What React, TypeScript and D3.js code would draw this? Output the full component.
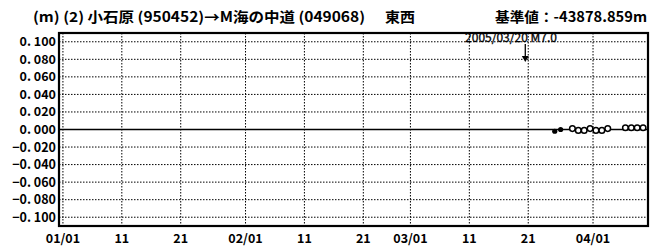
import React from "react";
import * as d3 from "d3";

const yTicks = [0.1, 0.08, 0.06, 0.04, 0.02, 0, -0.02, -0.04, -0.06, -0.08, -0.1];
const xTickDates = ["2005-01-01", "2005-01-11", "2005-01-21", "2005-02-01", "2005-02-11", "2005-02-21", "2005-03-01", "2005-03-11", "2005-03-21", "2005-04-01"];
const xTickLabels = ["01/01", "11", "21", "02/01", "11", "21", "03/01", "11", "21", "04/01"];

const filledDates = ["2005-03-25", "2005-03-26"];
const filledValues = [-0.002, 0.0];
const openDates = ["2005-03-28", "2005-03-29", "2005-03-30", "2005-03-31", "2005-04-01", "2005-04-02", "2005-04-03", "2005-04-06", "2005-04-07", "2005-04-08", "2005-04-09"];
const openValues = [0.001, -0.001, -0.001, 0.001, -0.001, -0.001, 0.001, 0.002, 0.002, 0.002, 0.002];

const quakeDate = "2005-03-20";
const quakeLabel = "2005/03/20 M7.0";
const titleLeft = "(m) (2) 小石原 (950452)→M海の中道 (049068)";
const titleDir = "東西";
const titleRight = "基準値：-43878.859m";

const toDate = (s: string, h = 0) => new Date(s + "T" + String(h).padStart(2, "0") + ":00:00Z");

export default function App() {
  const W = 661, H = 247;
  const L = 59, R = 648, T = 33, B = 226;
  const x = d3.scaleUtc().domain([new Date(Date.UTC(2004, 11, 31, 8)), new Date(Date.UTC(2005, 3, 10, 8))]).range([L, R]);
  const y = d3.scaleLinear().domain([-0.11, 0.11]).range([B, T]);
  const fmt = (v: number) => {
    const s = Math.abs(v).toFixed(3).replace(".", ". ");
    return (v < 0 ? "−" : "") + s;
  };
  const font = "'Noto Sans CJK JP', 'Liberation Sans', sans-serif";
  const qx = x(toDate(quakeDate, 12));
  return (
    <svg width={W} height={H} style={{ position: "absolute", left: 0, top: 0, background: "#fff" }} fontFamily={font}>
      <rect x={0} y={0} width={W} height={H} fill="#fff" />
      {/* title */}
      <text x={33} y={22} fontSize={14} fontWeight={700} fill="#000" textLength={332} lengthAdjust="spacingAndGlyphs">{titleLeft}</text>
      <text x={385} y={22} fontSize={14} fontWeight={700} fill="#000" textLength={30} lengthAdjust="spacingAndGlyphs">{titleDir}</text>
      <text x={495} y={22} fontSize={14} fontWeight={700} fill="#000" textLength={152} lengthAdjust="spacingAndGlyphs">{titleRight}</text>
      {/* horizontal grid */}
      {yTicks.filter(v => v !== 0).map((v, i) => (
        <line key={"hg" + i} x1={L} x2={R} y1={y(v)} y2={y(v)} stroke="#000" strokeWidth={1} strokeDasharray="1.5,1.5" />
      ))}
      {/* vertical grid */}
      {xTickDates.map((d, i) => (
        <line key={"vg" + i} x1={x(toDate(d))} x2={x(toDate(d))} y1={T} y2={B} stroke="#000" strokeWidth={1} strokeDasharray="1.5,1.5" />
      ))}
      {/* zero line */}
      <line x1={L} x2={R} y1={y(0)} y2={y(0)} stroke="#000" strokeWidth={1.4} />
      {/* frame */}
      <rect x={L} y={T} width={R - L} height={B - T} fill="none" stroke="#000" strokeWidth={2.2} />
      {/* y labels */}
      {yTicks.map((v, i) => (
        <text key={"yl" + i} x={56} y={y(v) + 4.5} fontSize={12.5} fontWeight={700} textAnchor="end" fill="#000">{fmt(v)}</text>
      ))}
      {/* x labels */}
      {xTickDates.map((d, i) => (
        <text key={"xl" + i} x={x(toDate(d))} y={243} fontSize={12.5} fontWeight={700} textAnchor="middle" fill="#000">{xTickLabels[i]}</text>
      ))}
      {/* quake annotation */}
      <text x={511} y={42} fontSize={12} fill="#000" stroke="#000" strokeWidth={0.3} textAnchor="middle">{quakeLabel}</text>
      <line x1={qx} x2={qx} y1={44} y2={58} stroke="#000" strokeWidth={1.3} />
      <path d={`M${qx - 3.5},${56} L${qx + 3.5},${56} L${qx},${62} Z`} fill="#000" />
      {/* data */}
      {filledDates.map((d, i) => (
        <circle key={"f" + i} cx={x(toDate(d, 12))} cy={y(filledValues[i])} r={2.6} fill="#000" />
      ))}
      {openDates.map((d, i) => (
        <circle key={"o" + i} cx={x(toDate(d, 12))} cy={y(openValues[i])} r={2.8} fill="#fff" stroke="#000" strokeWidth={1.5} />
      ))}
    </svg>
  );
}
